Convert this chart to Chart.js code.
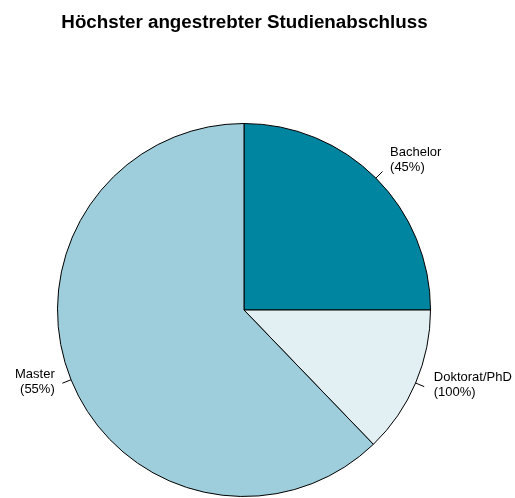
<!DOCTYPE html>
<html>
<head>
<meta charset="utf-8">
<script src="https://cdn.jsdelivr.net/npm/chart.js@4/dist/chart.umd.min.js"></script>
<style>
html,body{margin:0;padding:0;background:#fff;}
#wrap{width:515px;height:498px;position:relative;}
</style>
</head>
<body>
<div id="wrap"><canvas id="c" width="515" height="498"></canvas></div>
<script>
const titleText = "Höchster angestrebter Studienabschluss";
const categories = ["Bachelor", "Doktorat/PhD", "Master"];
const shares = [25.0, 12.8, 62.2];
const pctLabels = ["(45%)", "(100%)", "(55%)"];
const colors = ["#0085a1", "#e2f0f4", "#9ecedb"];

const labelPlugin = {
  id: 'pieLabels',
  afterDraw(chart) {
    const ctx = chart.ctx;
    ctx.save();
    // title
    ctx.fillStyle = '#000';
    ctx.font = 'bold 18.8px "Liberation Sans", Arial, sans-serif';
    ctx.textAlign = 'center';
    ctx.textBaseline = 'alphabetic';
    ctx.fillText(titleText, 244.5, 28);
    const meta = chart.getDatasetMeta(0);
    ctx.font = '13px "Liberation Sans", Arial, sans-serif';
    ctx.strokeStyle = '#000';
    ctx.lineWidth = 1;
    meta.data.forEach((arc, i) => {
      const p = arc.getProps(['x','y','startAngle','endAngle','outerRadius'], true);
      const a = (p.startAngle + p.endAngle) / 2;
      const r = p.outerRadius;
      const cx = Math.cos(a), cy = Math.sin(a);
      ctx.beginPath();
      ctx.moveTo(p.x + cx * r, p.y + cy * r);
      ctx.lineTo(p.x + cx * r * 1.05, p.y + cy * r * 1.05);
      ctx.stroke();
      const tx = p.x + cx * r * 1.1 + (cx >= 0 ? 1 : 1);
      const ty = p.y + cy * r * 1.1 - 5;
      ctx.textAlign = cx >= 0 ? 'left' : 'right';
      ctx.textBaseline = 'middle';
      ctx.fillText(categories[i], tx, ty - 7.5);
      ctx.fillText(pctLabels[i], tx, ty + 7.5);
    });
    ctx.restore();
  }
};

new Chart(document.getElementById('c'), {
  type: 'pie',
  data: {
    labels: categories,
    datasets: [{
      data: shares,
      backgroundColor: colors,
      borderColor: '#000',
      borderWidth: 1
    }]
  },
  options: {
    responsive: false,
    animation: false,
    layout: { padding: { left: 57, right: 84, top: 123, bottom: 1 } },
    plugins: {
      legend: { display: false },
      title: { display: false },
      tooltip: { enabled: false }
    }
  },
  plugins: [labelPlugin]
});
</script>
</body>
</html>
